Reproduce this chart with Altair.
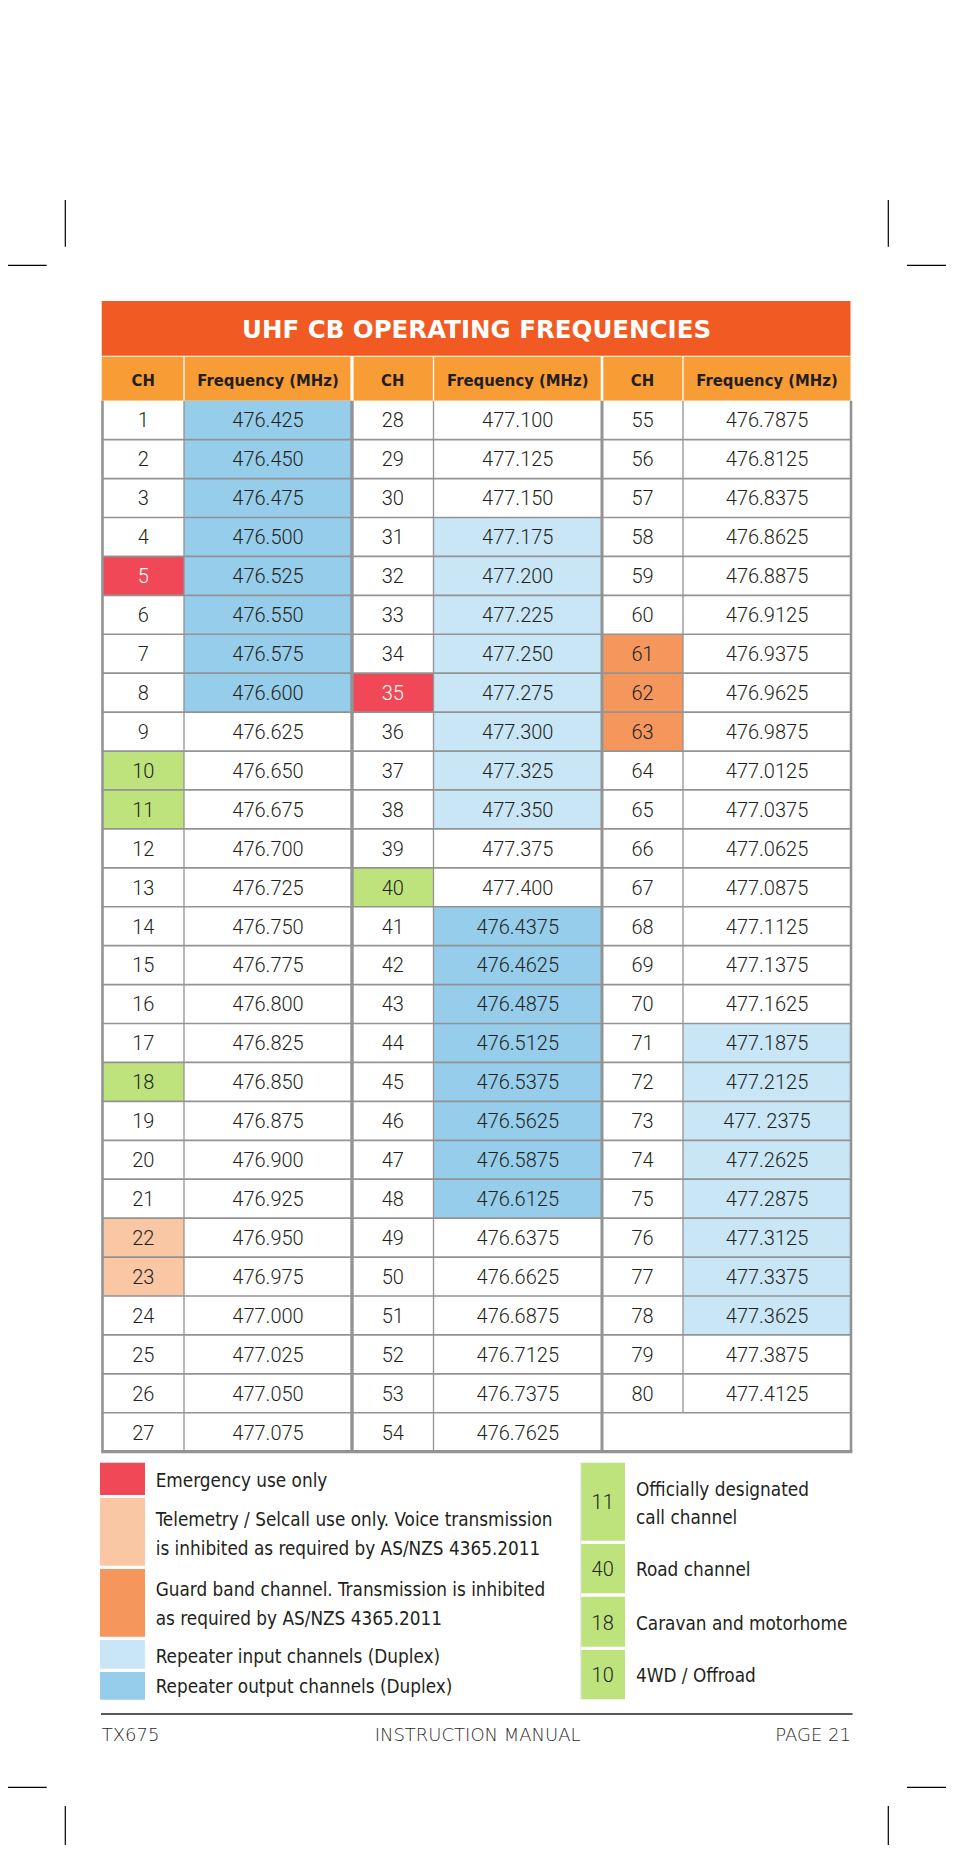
import altair as alt
import pandas as pd

# ---------------- data ----------------
title_text = "UHF CB OPERATING FREQUENCIES"
header_labels = ["CH", "Frequency (MHz)"]

ch_g1 = [1, 2, 3, 4, 5, 6, 7, 8, 9, 10, 11, 12, 13, 14, 15, 16, 17, 18, 19, 20, 21, 22, 23, 24, 25, 26, 27]
fq_g1 = ["476.425", "476.450", "476.475", "476.500", "476.525", "476.550", "476.575", "476.600",
         "476.625", "476.650", "476.675", "476.700", "476.725", "476.750", "476.775", "476.800",
         "476.825", "476.850", "476.875", "476.900", "476.925", "476.950", "476.975", "477.000",
         "477.025", "477.050", "477.075"]
ch_g2 = [28, 29, 30, 31, 32, 33, 34, 35, 36, 37, 38, 39, 40, 41, 42, 43, 44, 45, 46, 47, 48, 49, 50, 51, 52, 53, 54]
fq_g2 = ["477.100", "477.125", "477.150", "477.175", "477.200", "477.225", "477.250", "477.275",
         "477.300", "477.325", "477.350", "477.375", "477.400", "476.4375", "476.4625", "476.4875",
         "476.5125", "476.5375", "476.5625", "476.5875", "476.6125", "476.6375", "476.6625",
         "476.6875", "476.7125", "476.7375", "476.7625"]
ch_g3 = [55, 56, 57, 58, 59, 60, 61, 62, 63, 64, 65, 66, 67, 68, 69, 70, 71, 72, 73, 74, 75, 76, 77, 78, 79, 80]
fq_g3 = ["476.7875", "476.8125", "476.8375", "476.8625", "476.8875", "476.9125", "476.9375",
         "476.9625", "476.9875", "477.0125", "477.0375", "477.0625", "477.0875", "477.1125",
         "477.1375", "477.1625", "477.1875", "477.2125", "477. 2375", "477.2625", "477.2875",
         "477.3125", "477.3375", "477.3625", "477.3875", "477.4125"]

repeater_output_ch = [1, 2, 3, 4, 5, 6, 7, 8, 41, 42, 43, 44, 45, 46, 47, 48]
repeater_input_ch = [31, 32, 33, 34, 35, 36, 37, 38, 71, 72, 73, 74, 75, 76, 77, 78]
emergency_ch = [5, 35]
telemetry_ch = [22, 23]
guard_ch = [61, 62, 63]
designated_ch = [10, 11, 18, 40]

legend_left_labels = [
    ["Emergency use only"],
    ["Telemetry / Selcall use only. Voice transmission", "is inhibited as required by AS/NZS 4365.2011"],
    ["Guard band channel. Transmission is inhibited", "as required by AS/NZS 4365.2011"],
    ["Repeater input channels (Duplex)"],
    ["Repeater output channels (Duplex)"],
]
legend_right_channels = ["11", "40", "18", "10"]
legend_right_labels = [["Officially designated", "call channel"], ["Road channel"],
                       ["Caravan and motorhome"], ["4WD / Offroad"]]
footer_texts = ["TX675", "INSTRUCTION MANUAL", "PAGE  21"]

# ---------------- styles ----------------
TITLE_C = "#F15A22"
HEADER_C = "#F89C35"
OUT_BLUE = "#95CDEB"
IN_BLUE = "#C9E6F6"
RED = "#F04856"
PEACH = "#F9C7A4"
GUARD = "#F5965D"
GREEN = "#BEE37D"
GRID = "#939393"
TXT = "#231F20"
NARROW = "DejaVu Sans Condensed, Roboto, sans-serif"
DIGITS = "Roboto, Liberation Sans, sans-serif"

# ---------------- layout ----------------
W, H = 938, 1837
xs = alt.Scale(domain=[8, 8 + W], range=[0, W], nice=False, zero=False)
ys = alt.Scale(domain=[8, 8 + H], range=[0, H], nice=False, zero=False)

COL = [102.5, 184, 352, 433.5, 602, 683, 851]
TOP, BOT = 400.7, 1451.7
NROW = 27
RH = (BOT - TOP) / NROW

rects, rules = [], []
cell_txt = []

# title and header
rects.append(dict(x=101.7, x2=850.5, y=301, y2=355.7, c=TITLE_C))
rects.append(dict(x=101.7, x2=850.5, y=356.7, y2=TOP, c=HEADER_C))
head_txt = []
for g in range(3):
    for k in range(2):
        x0, x1 = COL[2 * g + k], COL[2 * g + k + 1]
        head_txt.append(dict(x=(x0 + x1) / 2, y=385.5, t=header_labels[k]))
for i, w in [(1, 1.3), (2, 3.2), (3, 1.3), (4, 2.6), (5, 1.3)]:
    rules.append(dict(x=COL[i], x2=COL[i], y=356.7, y2=TOP, w=w, c="#FFFFFF"))


def ch_fill(c):
    if c in emergency_ch:
        return RED
    if c in telemetry_ch:
        return PEACH
    if c in guard_ch:
        return GUARD
    if c in designated_ch:
        return GREEN
    return "#FFFFFF"


def fq_fill(c):
    if c in repeater_output_ch:
        return OUT_BLUE
    if c in repeater_input_ch:
        return IN_BLUE
    return "#FFFFFF"


for g, (chs, fqs) in enumerate([(ch_g1, fq_g1), (ch_g2, fq_g2), (ch_g3, fq_g3)]):
    for r, (c, f) in enumerate(zip(chs, fqs)):
        y0 = TOP + r * RH
        y1 = y0 + RH
        cx0, cx1, fx1 = COL[2 * g], COL[2 * g + 1], COL[2 * g + 2]
        rects.append(dict(x=cx0, x2=cx1, y=y0, y2=y1, c=ch_fill(c)))
        rects.append(dict(x=cx1, x2=fx1, y=y0, y2=y1, c=fq_fill(c)))
        base = y0 + RH / 2 + 7.3
        cell_txt.append(dict(x=(cx0 + cx1) / 2, y=base, t=str(c),
                             c="#FFFFFF" if c in emergency_ch else TXT))
        cell_txt.append(dict(x=(cx1 + fx1) / 2, y=base, t=f, c=TXT))

# grid lines
for r in range(1, NROW):
    yy = TOP + r * RH
    rules.append(dict(x=COL[0], x2=COL[-1], y=yy, y2=yy, w=1.7, c=GRID))
for i, w in [(0, 2.6), (1, 1.3), (2, 3.4), (3, 1.3), (4, 3.0), (6, 2.6)]:
    rules.append(dict(x=COL[i], x2=COL[i], y=TOP, y2=BOT, w=w, c=GRID))
rules.append(dict(x=COL[5], x2=COL[5], y=TOP, y2=TOP + (NROW - 1) * RH, w=1.3, c=GRID))
rules.append(dict(x=COL[0] - 1.3, x2=COL[-1] + 1.3, y=BOT, y2=BOT, w=3.2, c=GRID))

# legend (left)
left_sw = [(1462.7, 1495), (1498, 1565.7), (1569, 1636.7), (1640, 1668.7), (1672, 1699.7)]
left_cols = [RED, PEACH, GUARD, IN_BLUE, OUT_BLUE]
left_base = [[1486.5], [1525.5, 1554.5], [1596, 1624.5], [1662.5], [1692.5]]
leg_txt = []
for (y0, y1), col, lines, bases in zip(left_sw, left_cols, legend_left_labels, left_base):
    rects.append(dict(x=100, x2=145, y=y0, y2=y1, c=col))
    for ln, b in zip(lines, bases):
        leg_txt.append(dict(x=155.7, y=b, t=ln))

# legend (right)
right_sw = [(1462.7, 1540.7), (1544, 1593.3), (1596.7, 1646.7), (1650, 1699.3)]
right_base = [[1495.5, 1523.5], [1576], [1629.5], [1682]]
num_base = [1509, 1576, 1629.5, 1682]
num_txt = []
rules.append(dict(x=580.7, x2=580.7, y=1462, y2=1700, w=1, c="#E4E4E4"))
for (y0, y1), n, lines, bases, nb in zip(right_sw, legend_right_channels, legend_right_labels,
                                          right_base, num_base):
    rects.append(dict(x=581.2, x2=625, y=y0, y2=y1, c=GREEN))
    num_txt.append(dict(x=602.7, y=nb, t=n))
    for ln, b in zip(lines, bases):
        leg_txt.append(dict(x=636, y=b, t=ln))

# footer rule and crop marks
rules.append(dict(x=101, x2=852.5, y=1714, y2=1714, w=1.3, c=TXT))
for seg in [(65.3, 65.3, 200, 246.7), (0, 46.7, 265.3, 265.3), (888.3, 888.3, 200, 246.7),
            (907, 954, 265.3, 265.3), (0, 46.7, 1787.3, 1787.3), (65.3, 65.3, 1806, 1853),
            (907, 954, 1787.3, 1787.3), (888.3, 888.3, 1806, 1853)]:
    rules.append(dict(x=seg[0], x2=seg[1], y=seg[2], y2=seg[3], w=1.2, c="#000000"))

# ---------------- chart ----------------
X = lambda f: alt.X(f, type="quantitative", scale=xs, axis=None)
Y = lambda f: alt.Y(f, type="quantitative", scale=ys, axis=None)

rect_layer = alt.Chart(pd.DataFrame(rects)).mark_rect().encode(
    x=X("x"), x2="x2", y=Y("y"), y2="y2", color=alt.Color("c:N", scale=None))

rule_layer = alt.Chart(pd.DataFrame(rules)).mark_rule().encode(
    x=X("x"), x2="x2", y=Y("y"), y2="y2",
    color=alt.Color("c:N", scale=None), strokeWidth=alt.StrokeWidth("w:Q", scale=None))

title_layer = alt.Chart(pd.DataFrame([dict(x=476.5, y=337.9, t=title_text)])).mark_text(
    align="center", baseline="alphabetic", font="DejaVu Sans", fontSize=24.5,
    fontWeight="bold", color="#FFFFFF").encode(x=X("x"), y=Y("y"), text="t:N")

head_layer = alt.Chart(pd.DataFrame(head_txt)).mark_text(
    align="center", baseline="alphabetic", font=NARROW, fontSize=16.5,
    fontWeight="bold", color=TXT).encode(x=X("x"), y=Y("y"), text="t:N")

cell_layer = alt.Chart(pd.DataFrame(cell_txt)).mark_text(
    align="center", baseline="alphabetic", font=DIGITS, fontSize=20,
    fontWeight=300).encode(x=X("x"), y=Y("y"), text="t:N",
                           color=alt.Color("c:N", scale=None))

leg_layer = alt.Chart(pd.DataFrame(leg_txt)).mark_text(
    align="left", baseline="alphabetic", font=NARROW, fontSize=18.8,
    color=TXT).encode(x=X("x"), y=Y("y"), text="t:N")

num_layer = alt.Chart(pd.DataFrame(num_txt)).mark_text(
    align="center", baseline="alphabetic", font=DIGITS, fontSize=20,
    fontWeight=300, color=TXT).encode(x=X("x"), y=Y("y"), text="t:N")

foot_layers = []
for t, xx, al in zip(footer_texts, [101.7, 477.6, 851], ["left", "center", "right"]):
    foot_layers.append(alt.Chart(pd.DataFrame([dict(x=xx, y=1741.3, t=t)])).mark_text(
        align=al, baseline="alphabetic", font="DejaVu Sans", fontSize=18,
        fontWeight=300, color="#2A2A2A").encode(x=X("x"), y=Y("y"), text="t:N"))

chart = alt.layer(rect_layer, rule_layer, title_layer, head_layer, cell_layer,
                  leg_layer, num_layer, *foot_layers).properties(
    width=W, height=H, autosize=alt.AutoSizeParams(type="none"), padding=0
).configure_view(strokeWidth=0)

chart.save("out.html", embed_options={"renderer": "svg", "actions": False})
